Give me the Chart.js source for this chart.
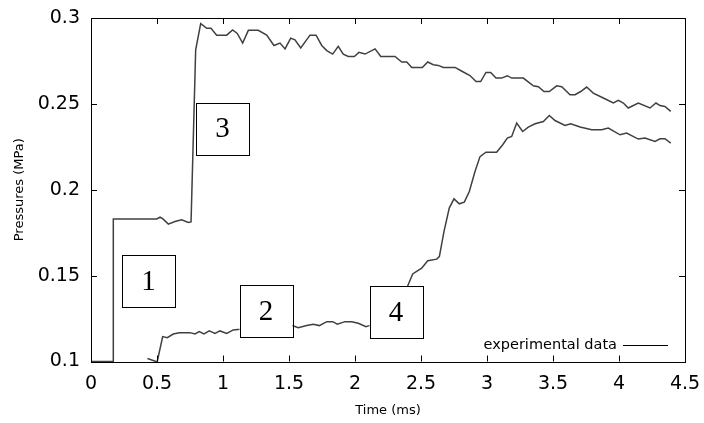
<!DOCTYPE html>
<html lang="en">
<head>
<meta charset="UTF-8">
<title>Pressures</title>
<script src="https://cdn.jsdelivr.net/npm/chart.js"></script>
<style>
    body { margin: 0; background: #ffffff; }
</style>
</head>
<body>
<canvas id="pressureChart" width="704" height="423"></canvas>
<script>
// sensors 1 -> 3
const timeA = [0, 0.169, 0.169, 0.498, 0.523, 0.545, 0.586, 0.636, 0.687, 0.737,
    0.758, 0.793, 0.831, 0.877, 0.909, 0.952, 1.028, 1.073, 1.108, 1.149,
    1.192, 1.267, 1.331, 1.386, 1.432, 1.470, 1.513, 1.545, 1.589, 1.659,
    1.705, 1.748, 1.786, 1.831, 1.873, 1.911, 1.949, 1.995, 2.030, 2.076,
    2.152, 2.195, 2.303, 2.354, 2.392, 2.430, 2.510, 2.551, 2.593, 2.631,
    2.669, 2.758, 2.803, 2.871, 2.917, 2.952, 2.992, 3.028, 3.068, 3.111,
    3.154, 3.187, 3.275, 3.351, 3.389, 3.432, 3.472, 3.528, 3.566, 3.629,
    3.667, 3.710, 3.755, 3.805, 3.881, 3.957, 3.995, 4.033, 4.070, 4.146,
    4.235, 4.280, 4.311, 4.348, 4.392];
const pressureA = [0.100, 0.100, 0.183, 0.183, 0.184, 0.183, 0.180, 0.1815, 0.1825, 0.181,
    0.1813, 0.2815, 0.2967, 0.294, 0.294, 0.290, 0.290, 0.293, 0.291, 0.2854,
    0.2928, 0.2928, 0.290, 0.284, 0.2854, 0.282, 0.2883, 0.2873, 0.2825, 0.290,
    0.290, 0.284, 0.281, 0.279, 0.2835, 0.279, 0.2776, 0.2776, 0.280, 0.279,
    0.282, 0.2776, 0.2776, 0.2744, 0.2744, 0.2712, 0.2712, 0.2744, 0.2728, 0.2724,
    0.2712, 0.2712, 0.2693, 0.2665, 0.263, 0.263, 0.2683, 0.2683, 0.265, 0.265,
    0.2664, 0.265, 0.265, 0.2605, 0.260, 0.2572, 0.2572, 0.2605, 0.260, 0.2553,
    0.2553, 0.2572, 0.2598, 0.2563, 0.2534, 0.2505, 0.252, 0.2505, 0.2476, 0.2505,
    0.2476, 0.2505, 0.249, 0.2485, 0.2456];

// sensors 2 -> 4
const timeB = [0.428, 0.492, 0.502, 0.543, 0.578, 0.623, 0.669, 0.750, 0.788, 0.820,
    0.856, 0.896, 0.939, 0.977, 1.028, 1.078, 1.129, 1.220, 1.318, 1.432,
    1.525, 1.570, 1.634, 1.684, 1.730, 1.786, 1.831, 1.866, 1.924, 1.975,
    2.025, 2.083, 2.108, 2.189, 2.280, 2.341, 2.399, 2.437, 2.505, 2.551,
    2.619, 2.639, 2.674, 2.714, 2.750, 2.790, 2.828, 2.866, 2.909, 2.947,
    2.992, 3.073, 3.119, 3.154, 3.187, 3.225, 3.270, 3.313, 3.364, 3.427,
    3.472, 3.515, 3.591, 3.634, 3.705, 3.793, 3.869, 3.919, 4.008, 4.058,
    4.146, 4.197, 4.273, 4.311, 4.348, 4.392];
const pressureB = [0.1017, 0.1000, 0.1000, 0.1145, 0.1139, 0.116, 0.1168, 0.1168, 0.116, 0.1174,
    0.116, 0.1178, 0.1164, 0.1178, 0.1164, 0.1184, 0.1188, 0.120, 0.1195, 0.1207,
    0.1209, 0.1197, 0.1209, 0.1217, 0.1209, 0.1232, 0.1232, 0.1217, 0.1232, 0.1232,
    0.1223, 0.1203, 0.1209, 0.123, 0.1253, 0.133, 0.144, 0.151, 0.1543, 0.1587,
    0.1596, 0.1611, 0.1756, 0.1893, 0.1947, 0.1918, 0.1928, 0.199, 0.2106, 0.2193,
    0.2219, 0.2219, 0.2262, 0.2301, 0.231, 0.2388, 0.2339, 0.2365, 0.2384, 0.2397,
    0.2432, 0.2403, 0.2374, 0.2384, 0.2365, 0.2349, 0.2349, 0.2359, 0.232, 0.233,
    0.2295, 0.2301, 0.2281, 0.2297, 0.2297, 0.2272];

const xTicks = [0, 0.5, 1, 1.5, 2, 2.5, 3, 3.5, 4, 4.5];
const yTicks = [0.1, 0.15, 0.2, 0.25, 0.3];
const sensorLabels = ['1', '2', '3', '4'];
const sensorLabelX = [0.436, 1.326, 0.996, 2.311];
const sensorLabelY = [0.1469, 0.1294, 0.2355, 0.1286];
const legendText = 'experimental data';

const lineColor = '#404040';
const sansFont = '"DejaVu Sans", sans-serif';

function toPoints(xs, ys) {
    return xs.map((x, i) => ({ x: x, y: ys[i] }));
}

// drop the extra room chart.js keeps for the outer tick labels
function noLabelPadding(s) {
    s.paddingLeft = 0; s.paddingRight = 0;
    s.paddingTop = 0; s.paddingBottom = 0;
}

// frame, inward ticks on all four sides, boxed labels and the legend
const gnuplotStyle = {
    id: 'gnuplotStyle',
    afterDatasetsDraw(chart) {
        const ctx = chart.ctx;
        const xs = chart.scales.x, ys = chart.scales.y;
        ctx.save();
        ctx.font = '29px "Liberation Serif", serif';
        ctx.textAlign = 'center';
        ctx.textBaseline = 'middle';
        sensorLabels.forEach((txt, i) => {
            const cx = xs.getPixelForValue(sensorLabelX[i]);
            const cy = ys.getPixelForValue(sensorLabelY[i]);
            ctx.fillStyle = '#ffffff';
            ctx.fillRect(cx - 26.5, cy - 26, 53, 52);
            ctx.strokeStyle = '#000000';
            ctx.lineWidth = 1;
            ctx.strokeRect(Math.round(cx - 26.5) + 0.5, Math.round(cy - 26) + 0.5, 53, 52);
            ctx.fillStyle = '#000000';
            ctx.fillText(txt, cx, cy + 1);
        });
        ctx.restore();
    },
    afterDraw(chart) {
        const ctx = chart.ctx;
        const a = chart.chartArea;
        const xs = chart.scales.x, ys = chart.scales.y;
        const tick = 6;
        ctx.save();
        ctx.strokeStyle = '#000000';
        ctx.lineWidth = 1;
        ctx.beginPath();
        xTicks.forEach(v => {
            const px = Math.round(xs.getPixelForValue(v)) + 0.5;
            ctx.moveTo(px, a.bottom); ctx.lineTo(px, a.bottom - tick);
            ctx.moveTo(px, a.top); ctx.lineTo(px, a.top + tick);
        });
        yTicks.forEach(v => {
            const py = Math.round(ys.getPixelForValue(v)) + 0.5;
            ctx.moveTo(a.left, py); ctx.lineTo(a.left + tick, py);
            ctx.moveTo(a.right, py); ctx.lineTo(a.right - tick, py);
        });
        ctx.stroke();
        ctx.strokeRect(Math.round(a.left) + 0.5, Math.round(a.top) + 0.5,
            Math.round(a.right - a.left), Math.round(a.bottom - a.top));

        // legend: text then line sample, bottom right inside the plot
        const ly = a.bottom - 16.5;
        const lineEnd = a.right - 17;
        ctx.font = '14.5px ' + sansFont;
        ctx.fillStyle = '#000000';
        ctx.textAlign = 'right';
        ctx.textBaseline = 'middle';
        ctx.fillText(legendText, lineEnd - 51, ly);
        ctx.strokeStyle = '#000000';
        ctx.lineWidth = 1;
        ctx.beginPath();
        ctx.moveTo(lineEnd - 45, Math.round(ly) + 0.5);
        ctx.lineTo(lineEnd, Math.round(ly) + 0.5);
        ctx.stroke();
        ctx.restore();
    }
};

new Chart(document.getElementById('pressureChart'), {
    type: 'line',
    data: {
        datasets: [
            {
                label: legendText,
                data: toPoints(timeA, pressureA),
                borderColor: lineColor,
                borderWidth: 1.5,
                pointRadius: 0,
                tension: 0,
                clip: false
            },
            {
                label: legendText,
                data: toPoints(timeB, pressureB),
                borderColor: lineColor,
                borderWidth: 1.5,
                pointRadius: 0,
                tension: 0,
                clip: false
            }
        ]
    },
    options: {
        responsive: false,
        animation: false,
        layout: { padding: { top: 18, right: 19, left: 0, bottom: 0 } },
        plugins: {
            legend: { display: false },
            tooltip: { enabled: false }
        },
        scales: {
            x: {
                type: 'linear',
                min: 0,
                max: 4.5,
                afterBuildTicks: s => { s.ticks = xTicks.map(v => ({ value: v })); },
                afterFit: s => { s.height = 61.5; noLabelPadding(s); },
                grid: { display: false, drawTicks: false },
                border: { display: false },
                ticks: {
                    color: '#000000',
                    font: { family: sansFont, size: 19 },
                    padding: 11,
                    maxRotation: 0,
                    callback: v => String(+v.toFixed(2))
                },
                title: {
                    display: true,
                    text: 'Time (ms)',
                    color: '#000000',
                    font: { family: sansFont, size: 13 },
                    padding: { top: 0, bottom: 5 }
                }
            },
            y: {
                min: 0.1,
                max: 0.3,
                afterBuildTicks: s => { s.ticks = yTicks.map(v => ({ value: v })); },
                afterFit: s => { s.width = 91; noLabelPadding(s); },
                grid: { display: false, drawTicks: false },
                border: { display: false },
                ticks: {
                    color: '#000000',
                    font: { family: sansFont, size: 19 },
                    padding: 11,
                    callback: v => String(+v.toFixed(2))
                },
                title: {
                    display: true,
                    text: 'Pressures (MPa)',
                    color: '#000000',
                    font: { family: sansFont, size: 13 },
                    padding: { top: 12, bottom: 0 }
                }
            }
        }
    },
    plugins: [gnuplotStyle]
});
</script>
</body>
</html>
